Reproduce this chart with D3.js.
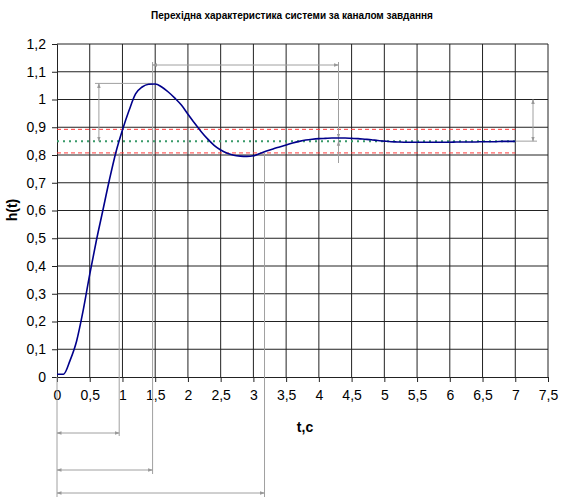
<!DOCTYPE html>
<html><head><meta charset="utf-8">
<script src="https://cdn.jsdelivr.net/npm/d3@7"></script>
<style>body{margin:0;background:#fff;font-family:"Liberation Sans",Arial,sans-serif}</style>
</head><body><svg id="c" width="566" height="502"></svg>
<script>
const title = "Перехідна характеристика системи за каналом завдання";
const xLabel = "t,c";
const yLabel = "h(t)";
const xTicks = [0,0.5,1,1.5,2,2.5,3,3.5,4,4.5,5,5.5,6,6.5,7,7.5];
const yTicks = [0,0.1,0.2,0.3,0.4,0.5,0.6,0.7,0.8,0.9,1,1.1,1.2];
const tValues = [0,0.1,0.2,0.3,0.4,0.5,0.6,0.7,0.8,0.9,1.0,1.1,1.2,1.3,1.4,1.5,1.6,1.7,1.8,1.9,2.0,2.1,2.2,2.3,2.4,2.5,2.6,2.7,2.8,2.9,3.0,3.1,3.2,3.3,3.4,3.5,3.6,3.7,3.8,3.9,4.0,4.1,4.2,4.3,4.4,4.5,4.6,4.7,4.8,4.9,5.0,5.1,5.2,5.3,5.4,5.5,5.6,5.7,5.8,5.9,6.0,6.1,6.2,6.3,6.4,6.5,6.6,6.7,6.8,6.9,7.0];
const hValues = [0.01,0.01,0.06,0.13,0.24,0.37,0.49,0.60,0.71,0.81,0.89,0.96,1.02,1.045,1.055,1.056,1.045,1.027,1.005,0.98,0.947,0.915,0.885,0.858,0.835,0.818,0.806,0.799,0.796,0.795,0.797,0.805,0.814,0.822,0.829,0.836,0.843,0.849,0.854,0.857,0.859,0.860,0.861,0.861,0.861,0.860,0.859,0.857,0.855,0.852,0.850,0.848,0.847,0.846,0.846,0.846,0.846,0.846,0.846,0.846,0.846,0.847,0.847,0.847,0.847,0.848,0.848,0.848,0.849,0.849,0.849];
const steady = 0.85;
const bandUpper = 0.8925, bandLower = 0.8075;
const tEnter = 0.95, tPeak = 1.46, tSettle = 3.17, tPeak2 = 4.3;
const hPeak = 1.058, hPeak2 = 0.861;

const svg = d3.select("#c");
const x = d3.scaleLinear().domain([0,7.5]).range([57,548]);
const y = d3.scaleLinear().domain([0,1.2]).range([377,44]);
const fmt = d => String(d).replace(".", ",");
const gridC = "#222", annC = "#a0a0a0";

// title
svg.append("text").attr("x",292).attr("y",19).attr("text-anchor","middle")
  .attr("font-size",10).attr("font-weight","bold").text(title);

// grid
const g = svg.append("g");
g.selectAll(".hg").data(yTicks.filter(d=>d>0)).enter().append("line")
  .attr("x1",x(0)).attr("x2",x(7.5)).attr("y1",d=>y(d)).attr("y2",d=>y(d))
  .attr("stroke",gridC).attr("stroke-width",1);
g.selectAll(".vg").data(xTicks.filter(d=>d>0)).enter().append("line")
  .attr("y1",y(0)).attr("y2",y(1.2)).attr("x1",d=>x(d)).attr("x2",d=>x(d))
  .attr("stroke",gridC).attr("stroke-width",1);

// axes
const yAxis = d3.axisLeft(y).tickValues(yTicks).tickFormat(fmt).tickSize(5).tickPadding(6);
const xAxis = d3.axisBottom(x).tickValues(xTicks).tickFormat(fmt).tickSize(5).tickPadding(8);
const ya = svg.append("g").attr("transform",`translate(${x(0)},0)`).call(yAxis);
const xa = svg.append("g").attr("transform",`translate(0,${y(0)})`).call(xAxis);
[ya,xa].forEach(a=>{
  a.select(".domain").attr("stroke",gridC);
  a.selectAll(".tick line").attr("stroke",gridC);
  a.selectAll("text").attr("font-size",14).attr("font-family","Liberation Sans, Arial, sans-serif").attr("fill","#000");
});

// axis labels
svg.append("text").attr("x",305).attr("y",432).attr("text-anchor","middle")
  .attr("font-size",14).attr("font-weight","bold").text(xLabel);
svg.append("text").attr("transform","translate(17,210) rotate(-90)").attr("text-anchor","middle")
  .attr("font-size",14).attr("font-weight","bold").text(yLabel);

// markers
const defs = svg.append("defs");
defs.append("marker").attr("id","ah").attr("viewBox","0 0 10 10").attr("refX",9).attr("refY",5)
  .attr("markerWidth",5).attr("markerHeight",5).attr("orient","auto-start-reverse")
  .append("path").attr("d","M0,1.5L10,5L0,8.5Z").attr("fill","#999");

// band & steady lines
svg.append("line").attr("x1",x(0)).attr("x2",x(7)).attr("y1",y(bandUpper)).attr("y2",y(bandUpper))
  .attr("stroke","#ff3b3b").attr("stroke-dasharray","4,3").attr("stroke-width",1);
svg.append("line").attr("x1",x(0)).attr("x2",x(7)).attr("y1",y(bandLower)).attr("y2",y(bandLower))
  .attr("stroke","#ff3b3b").attr("stroke-dasharray","4,3").attr("stroke-width",1);
svg.append("line").attr("x1",x(0)).attr("x2",x(7)).attr("y1",y(steady)).attr("y2",y(steady))
  .attr("stroke","#3a9a6a").attr("stroke-dasharray","2,4").attr("stroke-width",2);

// annotation lines
const ann = svg.append("g").attr("stroke",annC).attr("stroke-width",1).attr("fill","none");
const L = (x1,y1,x2,y2)=>ann.append("line").attr("x1",x1).attr("y1",y1).attr("x2",x2).attr("y2",y2);
const A = (x1,y1,x2,y2)=>L(x1,y1,x2,y2).attr("marker-start","url(#ah)").attr("marker-end","url(#ah)");
// verticals
L(x(0),y(0),x(0),497);
L(x(tEnter),y(bandLower),x(tEnter),436);
L(x(tPeak),65-3,x(tPeak),474);
L(x(tSettle),y(bandLower),x(tSettle),497);
L(x(tPeak2),62,x(tPeak2),163);
// peak level
L(x(0.58),y(hPeak),x(tPeak),y(hPeak));
A(x(0.64),y(hPeak),x(0.64),y(steady));
// top period arrow
A(x(tPeak),65,x(tPeak2),65);
// second overshoot
ann.append("line").attr("x1",x(tPeak2)).attr("x2",x(tPeak2)).attr("y1",y(hPeak2)-12).attr("y2",y(hPeak2)).attr("marker-end","url(#ah)");
ann.append("line").attr("x1",x(tPeak2)).attr("x2",x(tPeak2)).attr("y1",y(steady)+12).attr("y2",y(steady)).attr("marker-end","url(#ah)");
// right steady arrow
L(x(7),y(steady),537,y(steady));
A(533,y(1),533,y(steady));
// bottom time arrows
A(x(0),433,x(tEnter),433);
A(x(0),470,x(tPeak),470);
A(x(0),493,x(tSettle),493);

// curve
const pts = tValues.map((t,i)=>[t,hValues[i]]);
svg.append("path").datum(pts).attr("fill","none").attr("stroke","#00008b").attr("stroke-width",1.6)
  .attr("d",d3.line().x(d=>x(d[0])).y(d=>y(d[1])).curve(d3.curveMonotoneX));
</script></body></html>
